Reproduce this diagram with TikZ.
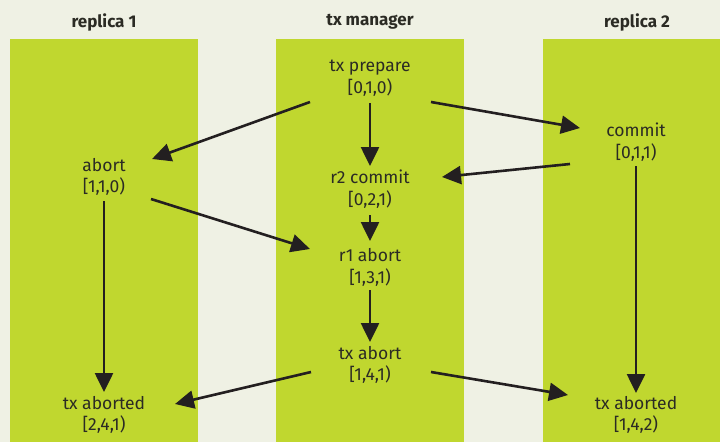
\documentclass[tikz,border=0pt]{standalone}
\usepackage{fontspec}
\setmainfont{Fira Sans}
\usetikzlibrary{arrows.meta,calc}
\definecolor{bgc}{HTML}{EFF1E4}
\definecolor{colgreen}{HTML}{C0D72F}
\definecolor{txtc}{HTML}{2B2B24}
\definecolor{arrc}{HTML}{231F20}
\tikzset{
  lbl/.style={align=center, text=txtc, font=\fontsize{17.5}{21.5}\selectfont, inner sep=0pt},
  hdr/.style={text=txtc, font=\fontsize{17}{20}\selectfont\bfseries, inner sep=0pt},
  arr/.style={draw=arrc, line width=2.6pt, -{Triangle[length=19pt,width=18pt]}},
  colbox/.style={fill=colgreen, draw=none}
}
\begin{document}
\begin{tikzpicture}[x=1pt,y=-1pt]
\fill[bgc] (0,0) rectangle (720,442);
\useasboundingbox (0,0) rectangle (720,442);
\fill[colgreen] (10,39) rectangle (198,442);
\fill[colgreen] (276,39) rectangle (464,442);
\fill[colgreen] (543,39) rectangle (720,442);

\node[hdr] (h1) at (104,22) {replica 1};
\node[hdr] (h2) at (370,22) {tx manager};
\node[hdr] (h3) at (637,22) {replica 2};

\node[lbl] (txp) at (370,78) {tx prepare\\{[0,1,0)}};
\node[lbl] (commit) at (636,142) {commit\\{[0,1,1)}};
\node[lbl] (abort) at (104,177) {abort\\{[1,1,0)}};
\node[lbl] (r2c) at (370,189) {r2 commit\\{[0,2,1)}};
\node[lbl] (r1a) at (370,267.5) {r1 abort\\{[1,3,1)}};
\node[lbl] (txa) at (370,365) {tx abort\\{[1,4,1)}};
\node[lbl] (tal) at (104,415) {tx aborted\\{[2,4,1)}};
\node[lbl] (tar) at (636,415) {tx aborted\\{[1,4,2)}};

\draw[arr] ($(txp)+(-60,24)$) -- ($(abort)+(48,-18)$);
\draw[arr] ($(txp)+(0,25)$) -- ($(r2c)+(0,-23)$);
\draw[arr] ($(txp)+(61,24)$) -- ($(commit)+(-56,-14)$);
\draw[arr] ($(commit)+(-66,22)$) -- ($(r2c)+(72,-12)$);
\draw[arr] ($(abort)+(47,22)$) -- ($(r1a)+(-60,-18.5)$);
\draw[arr] ($(r2c)+(0,26)$) -- ($(r1a)+(0,-26.5)$);
\draw[arr] ($(abort)+(0,24)$) -- ($(tal)+(0,-23)$);
\draw[arr] ($(commit)+(0,24)$) -- ($(tar)+(0,-22)$);
\draw[arr] ($(r1a)+(0,22.5)$) -- ($(txa)+(0,-23)$);
\draw[arr] ($(txa)+(-59,7)$) -- ($(tal)+(71,-11)$);
\draw[arr] ($(txa)+(61,7)$) -- ($(tar)+(-68,-20)$);
\end{tikzpicture}
\end{document}
